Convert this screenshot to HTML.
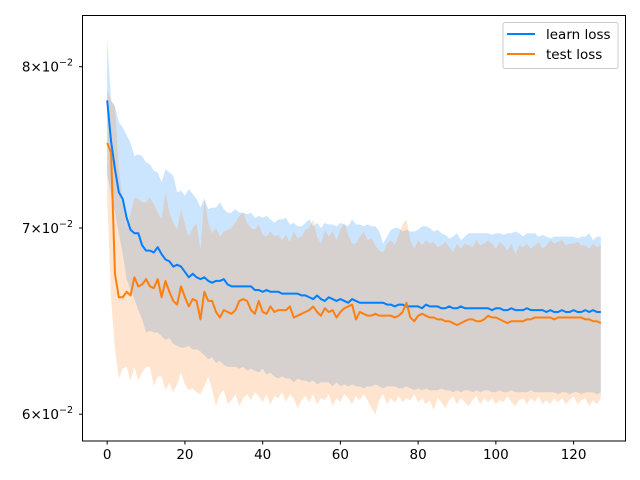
<!DOCTYPE html>
<html><head><meta charset="utf-8"><style>
body{margin:0;background:#fff;}
svg{display:block;font-family:"DejaVu Sans","Liberation Sans",sans-serif;}
</style></head><body>
<svg id="chart" width="640" height="480" viewBox="0 0 640 480" xmlns="http://www.w3.org/2000/svg">
<g id="bands"></g>
<g id="lines"></g>
<rect x="82.5" y="15.5" width="543" height="425.5" fill="none" stroke="#000" stroke-width="1"/>
<g id="xaxis"></g>
<g id="yaxis"></g>
<g>
<rect x="503" y="22.5" width="115" height="46" rx="2" fill="#fff" fill-opacity="0.8" stroke="#ccc"/>
<line x1="507" y1="34" x2="535" y2="34" stroke="#007fff" stroke-width="2"/>
<text x="546" y="39" font-size="13.5">learn loss</text>
<line x1="507" y1="54" x2="535" y2="54" stroke="#ff7f0e" stroke-width="2"/>
<text x="546" y="59" font-size="13.5">test loss</text>
</g>
</svg>
<script>
// values in units of 1e-2
const learnMean=[7.78,7.52,7.35,7.21,7.17,7.06,6.99,6.97,6.97,6.90,6.87,6.87,6.86,6.89,6.85,6.82,6.81,6.78,6.79,6.78,6.75,6.72,6.74,6.72,6.71,6.72,6.70,6.69,6.70,6.70,6.71,6.68,6.67,6.67,6.67,6.67,6.67,6.67,6.65,6.65,6.64,6.65,6.64,6.64,6.64,6.63,6.63,6.63,6.63,6.63,6.62,6.62,6.61,6.60,6.62,6.60,6.59,6.61,6.60,6.59,6.60,6.59,6.58,6.60,6.59,6.58,6.58,6.58,6.58,6.58,6.58,6.58,6.57,6.57,6.56,6.57,6.57,6.56,6.56,6.56,6.56,6.55,6.57,6.56,6.56,6.56,6.55,6.55,6.56,6.55,6.55,6.56,6.55,6.55,6.55,6.55,6.55,6.55,6.55,6.54,6.55,6.55,6.54,6.54,6.55,6.54,6.54,6.54,6.55,6.54,6.54,6.54,6.54,6.53,6.54,6.53,6.53,6.54,6.53,6.53,6.54,6.53,6.53,6.54,6.53,6.54,6.53,6.53];
const testMean=[7.51,7.45,6.74,6.61,6.61,6.64,6.62,6.72,6.67,6.68,6.71,6.67,6.66,6.71,6.61,6.70,6.64,6.59,6.57,6.67,6.61,6.56,6.60,6.59,6.49,6.64,6.59,6.59,6.53,6.50,6.54,6.53,6.52,6.54,6.59,6.60,6.59,6.54,6.52,6.59,6.53,6.52,6.56,6.53,6.54,6.54,6.54,6.56,6.50,6.51,6.52,6.53,6.54,6.56,6.53,6.51,6.55,6.53,6.54,6.50,6.53,6.55,6.56,6.57,6.49,6.53,6.52,6.51,6.51,6.52,6.51,6.51,6.51,6.51,6.50,6.51,6.53,6.58,6.50,6.48,6.51,6.52,6.51,6.50,6.50,6.49,6.49,6.48,6.48,6.47,6.46,6.47,6.48,6.49,6.49,6.48,6.48,6.49,6.51,6.50,6.50,6.49,6.48,6.47,6.48,6.48,6.48,6.48,6.49,6.49,6.50,6.50,6.50,6.50,6.50,6.49,6.50,6.50,6.50,6.50,6.50,6.50,6.50,6.49,6.49,6.48,6.48,6.47];
const learnUpper=[8.19,7.78,7.74,7.64,7.61,7.56,7.51,7.43,7.44,7.43,7.39,7.38,7.34,7.33,7.27,7.35,7.33,7.31,7.21,7.22,7.19,7.23,7.20,7.17,7.12,7.17,7.11,7.12,7.12,7.15,7.11,7.09,7.09,7.11,7.09,7.09,7.08,7.09,7.06,7.07,7.06,7.07,7.05,7.03,7.05,7.05,7.06,7.02,7.03,7.01,7.01,7.03,7.05,7.01,7.03,7.00,7.03,7.02,7.02,7.01,7.03,7.02,7.01,7.05,7.02,7.02,7.01,7.02,7.01,7.01,6.98,6.91,6.95,6.99,7.00,7.00,6.98,6.99,6.98,6.98,6.99,7.01,7.01,7.00,6.98,6.99,6.97,6.96,6.94,6.95,6.97,6.93,6.95,6.97,6.97,6.97,6.97,6.97,6.97,6.96,6.97,6.97,6.96,6.97,6.97,6.98,6.97,6.95,6.97,6.97,6.97,6.95,6.96,6.95,6.94,6.95,6.95,6.95,6.95,6.95,6.95,6.94,6.95,6.95,6.97,6.93,6.95,6.95];
const learnLower=[7.32,7.20,7.09,6.97,6.85,6.71,6.65,6.60,6.54,6.49,6.42,6.43,6.42,6.42,6.40,6.38,6.39,6.36,6.35,6.34,6.34,6.35,6.33,6.33,6.32,6.30,6.28,6.29,6.26,6.27,6.25,6.24,6.24,6.24,6.23,6.24,6.22,6.23,6.22,6.21,6.23,6.20,6.21,6.19,6.18,6.19,6.18,6.18,6.16,6.18,6.17,6.17,6.16,6.17,6.15,6.16,6.16,6.16,6.14,6.16,6.14,6.15,6.14,6.15,6.14,6.14,6.13,6.14,6.14,6.15,6.14,6.13,6.14,6.14,6.14,6.13,6.13,6.14,6.13,6.12,6.13,6.12,6.13,6.12,6.12,6.12,6.13,6.12,6.12,6.11,6.12,6.11,6.12,6.12,6.11,6.12,6.11,6.12,6.12,6.11,6.11,6.12,6.11,6.11,6.12,6.11,6.11,6.11,6.11,6.12,6.11,6.11,6.11,6.11,6.11,6.11,6.10,6.11,6.11,6.10,6.11,6.11,6.10,6.11,6.11,6.11,6.10,6.11];
const testUpper=[7.85,7.78,7.74,7.35,7.17,7.01,7.08,7.18,7.17,7.15,7.15,7.18,7.14,7.09,7.05,7.21,7.09,7.03,6.99,7.11,7.02,6.95,7.00,7.03,6.87,7.18,7.03,6.97,7.00,6.95,6.98,6.99,7.00,7.03,7.07,7.09,7.03,7.00,6.99,7.02,6.96,6.95,6.98,6.95,6.96,6.93,6.96,6.92,6.98,6.94,6.95,6.99,7.00,7.05,6.95,6.91,6.99,6.95,6.98,6.93,6.99,7.03,6.96,6.91,6.91,6.95,6.98,6.93,6.94,6.90,6.87,6.86,6.91,6.93,6.90,6.96,7.02,7.05,6.93,6.88,6.93,6.90,6.93,6.91,6.92,6.89,6.90,6.92,6.89,6.86,6.91,6.88,6.91,6.90,6.89,6.93,6.90,6.91,6.93,6.91,6.88,6.92,6.90,6.87,6.91,6.85,6.90,6.89,6.91,6.88,6.90,6.92,6.88,6.90,6.93,6.91,6.92,6.93,6.90,6.91,6.91,6.92,6.90,6.90,6.88,6.91,6.89,6.90];
const testLower=[7.17,6.60,6.33,6.18,6.23,6.24,6.17,6.24,6.17,6.21,6.24,6.24,6.14,6.19,6.19,6.12,6.16,6.11,6.15,6.21,6.15,6.12,6.13,6.11,6.10,6.14,6.19,6.12,6.04,6.10,6.12,6.05,6.07,6.10,6.04,6.08,6.10,6.07,6.11,6.09,6.06,6.10,6.05,6.09,6.08,6.11,6.06,6.10,6.08,6.03,6.07,6.09,6.06,6.10,6.05,6.08,6.07,6.10,6.04,6.08,6.06,6.10,6.08,6.05,6.09,6.07,6.10,6.07,6.03,6.00,6.07,6.10,6.05,6.08,6.06,6.09,6.06,6.08,6.07,6.10,6.06,6.08,6.05,6.07,6.02,6.08,6.06,6.03,6.07,6.09,6.05,6.08,6.06,6.04,6.07,6.09,6.05,6.08,6.06,6.08,6.05,6.07,6.06,6.09,6.06,6.04,6.07,6.08,6.05,6.08,6.06,6.09,6.05,6.07,6.05,6.08,6.06,6.08,6.05,6.07,6.09,6.05,6.07,6.08,6.04,6.07,6.05,6.08];
const xTicks=[0,20,40,60,80,100,120];
const yTicks=[8,7,6];
const yTickLabels=["8","7","6"];

const NS="http://www.w3.org/2000/svg";
const X0=82.5,X1=625.5,XMIN=-6.35,XMAX=133.35;
function xs(i){return X0+(i-XMIN)/(XMAX-XMIN)*(X1-X0);}
function ys(v){return 66.7+1208*Math.log(8/v);}
function mk(tag,attrs,parent){const e=document.createElementNS(NS,tag);for(const k in attrs)e.setAttribute(k,attrs[k]);parent.appendChild(e);return e;}
function band(up,lo,fill,name){
  let d="M"+up.map((v,i)=>xs(i).toFixed(2)+","+ys(v).toFixed(2)).join("L");
  for(let i=lo.length-1;i>=0;i--)d+="L"+xs(i).toFixed(2)+","+ys(lo[i]).toFixed(2);
  const p=mk("path",{d:d+"Z",fill:fill,"fill-opacity":"0.2"},document.getElementById("bands"));
  
  
}
function line(arr,col,name){
  const p=mk("path",{d:"M"+arr.map((v,i)=>xs(i).toFixed(2)+","+ys(v).toFixed(2)).join("L"),fill:"none",stroke:col,"stroke-width":"2","stroke-linejoin":"round"},document.getElementById("lines"));
  
  
}
band(learnUpper,learnLower,"#007fff","learn-loss-band");
band(testUpper,testLower,"#ff7f0e","test-loss-band");
line(learnMean,"#007fff","learn-loss-line");
line(testMean,"#ff7f0e","test-loss-line");
const xa=document.getElementById("xaxis");
xTicks.forEach(t=>{
  const l=mk("line",{x1:xs(t),x2:xs(t),y1:441,y2:444.5,stroke:"#000"},xa);
  
  
  const tx=mk("text",{x:xs(t),y:459,"font-size":"13.5","text-anchor":"middle"},xa);
  tx.textContent=t;
  
  
});
const ya=document.getElementById("yaxis");
yTicks.forEach((t,k)=>{
  const y=ys(t);
  const l=mk("line",{x1:79,x2:82.5,y1:y,y2:y,stroke:"#000"},ya);
  
  
  const tx=mk("text",{x:73,y:y+5,"font-size":"13.5","text-anchor":"end"},ya);
  
  
  const a=document.createElementNS(NS,"tspan");a.textContent=yTickLabels[k]+"\u00d710";tx.appendChild(a);
  const b=document.createElementNS(NS,"tspan");b.setAttribute("dy","-6");b.setAttribute("font-size","9.5");b.textContent="\u22122";tx.appendChild(b);
});
</script>
</body></html>
